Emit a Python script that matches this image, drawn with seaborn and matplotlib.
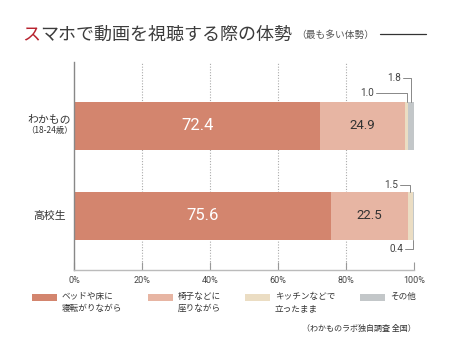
import matplotlib
matplotlib.use("Agg")
import matplotlib.pyplot as plt
import seaborn as sns
import pandas as pd
import numpy as np
from matplotlib.patches import Rectangle
from matplotlib.lines import Line2D

sns.set_theme(style="white")
plt.rcParams['font.family'] = ['Noto Sans CJK JP', 'DejaVu Sans']

# ---- data ----
groups = ["わかもの", "高校生"]
group_sub = ["（18-24歳）", ""]
series = ["ベッドや床に\n寝転がりながら", "椅子などに\n座りながら", "キッチンなどで\n立ったまま", "その他"]
lying = [72.4, 75.6]
sitting = [24.9, 22.5]
standing = [1.0, 1.5]
other = [1.8, 0.4]
xticks = [0, 20, 40, 60, 80, 100]
xtick_labels = ["0%", "20%", "40%", "60%", "80%", "100%"]
title_head = "ス"
title_rest = "マホで動画を視聴する際の体勢"
subtitle = "（最も多い体勢）"
source = "（わかものラボ独自調査 全国）"

colors = ["#D3856E", "#E7B5A3", "#EBDDC3", "#C3C7C9"]

W, H = 450, 364
fig = plt.figure(figsize=(W / 100, H / 100), dpi=100)
fig.patch.set_facecolor("white")
ax = fig.add_axes([74 / W, 1 - 270 / H, 340 / W, 208 / H])

segs = [lying, sitting, standing, other]
cum = np.cumsum(np.array(segs), axis=0)
df = pd.DataFrame({"group": groups})
for i in range(3, -1, -1):
    df["v"] = cum[i]
    sns.barplot(data=df, x="v", y="group", orient="h", color=colors[i],
                saturation=1, width=48 / 90, ax=ax, linewidth=0, zorder=2)

ax.set_xlim(0, 100)
ax.set_ylim(1.6, -0.711)
for gx in [20, 40, 60, 80]:
    ax.axvline(gx, color="#aaaaaa", lw=0.8, ls=(0, (1, 1.5)), zorder=0)

ax.set_xticks(xticks)
ax.set_xticklabels(xtick_labels, fontfamily="Roboto", fontsize=6.5, color="#444444")
ax.tick_params(axis="x", direction="in", length=6, width=0.8, color="#999999", pad=4,
               bottom=True)
ax.set_yticks([])
ax.set_xlabel("")
ax.set_ylabel("")
for s in ["top", "right"]:
    ax.spines[s].set_visible(False)
ax.spines["left"].set_color("#888888")
ax.spines["left"].set_linewidth(1)
ax.spines["bottom"].set_color("#bbbbbb")
ax.spines["bottom"].set_linewidth(1)

# group labels
ax.text(-0.072, 0.0 - 0.08, groups[0], transform=ax.get_yaxis_transform(),
        ha="center", va="center", fontsize=7.8, color="#333333")
ax.text(-0.072, 0.0 + 0.05, group_sub[0], transform=ax.get_yaxis_transform(),
        ha="center", va="center", fontsize=6, color="#333333")
ax.text(-0.072, 1.0, groups[1], transform=ax.get_yaxis_transform(),
        ha="center", va="center", fontsize=7.8, color="#333333")

# value labels inside
for j in range(2):
    ax.text(lying[j] / 2, j, f"{lying[j]:.1f}", ha="center", va="center",
            fontfamily="Roboto", fontsize=12, color="white", zorder=5)
    ax.text(lying[j] + sitting[j] / 2, j, f"{sitting[j]:.1f}", ha="center", va="center",
            fontfamily="Roboto", fontsize=9.5, color="#333333", zorder=5)

# small-value callouts
lc = "#888888"
def callout(text, tx, ty, xc, ybar):
    ax.text(tx, ty, text, ha="right", va="center", fontfamily="Roboto",
            fontsize=7.2, color="#444444")
    ax.add_line(Line2D([tx + 0.7, xc, xc], [ty, ty, ybar], color=lc, lw=0.7,
                       clip_on=False, zorder=4))

callout(f"{other[0]:.1f}", 96.2, -0.533, cum[2][0] + other[0] / 2, -0.2667)
callout(f"{standing[0]:.1f}", 88.2, -0.367, cum[1][0] + standing[0] / 2, -0.2667)
callout(f"{standing[1]:.1f}", 95.3, 0.656, cum[1][1] + standing[1] / 2, 0.7333)
callout(f"{other[1]:.1f}", 96.8, 1.367, cum[2][1] + other[1] / 2, 1.2667)

# title
renderer = fig.canvas.get_renderer()
t1 = fig.text(22 / W, 1 - 35 / H, title_head, ha="left", va="center",
              fontsize=13, color="#B8232F")
bb = t1.get_window_extent(renderer)
t2 = fig.text(bb.x1 / W, 1 - 35 / H, title_rest, ha="left", va="center",
              fontsize=13, color="#3c3c3c")
bb2 = t2.get_window_extent(renderer)
fig.text(bb2.x1 / W + 4 / W, 1 - 35 / H, subtitle, ha="left", va="center",
         fontsize=7, color="#555555")
fig.add_artist(Line2D([380 / W, 426 / W], [1 - 34 / H, 1 - 34 / H], color="#333333",
                      lw=0.9, transform=fig.transFigure))

# legend
leg_x = [32, 148, 245, 360]
for i, lab in enumerate(series):
    fig.add_artist(Rectangle((leg_x[i] / W, 1 - 301 / H), 25 / W, 7 / H,
                             facecolor=colors[i], edgecolor="none",
                             transform=fig.transFigure))
    fig.text((leg_x[i] + 30) / W, 1 - 292 / H, lab, ha="left", va="top",
             fontsize=6.2, color="#333333", linespacing=1.45)

fig.text(416 / W, 1 - 328 / H, source, ha="right", va="center", fontsize=5.8,
         color="#333333")

fig.savefig("out.png", dpi=100, facecolor="white")
